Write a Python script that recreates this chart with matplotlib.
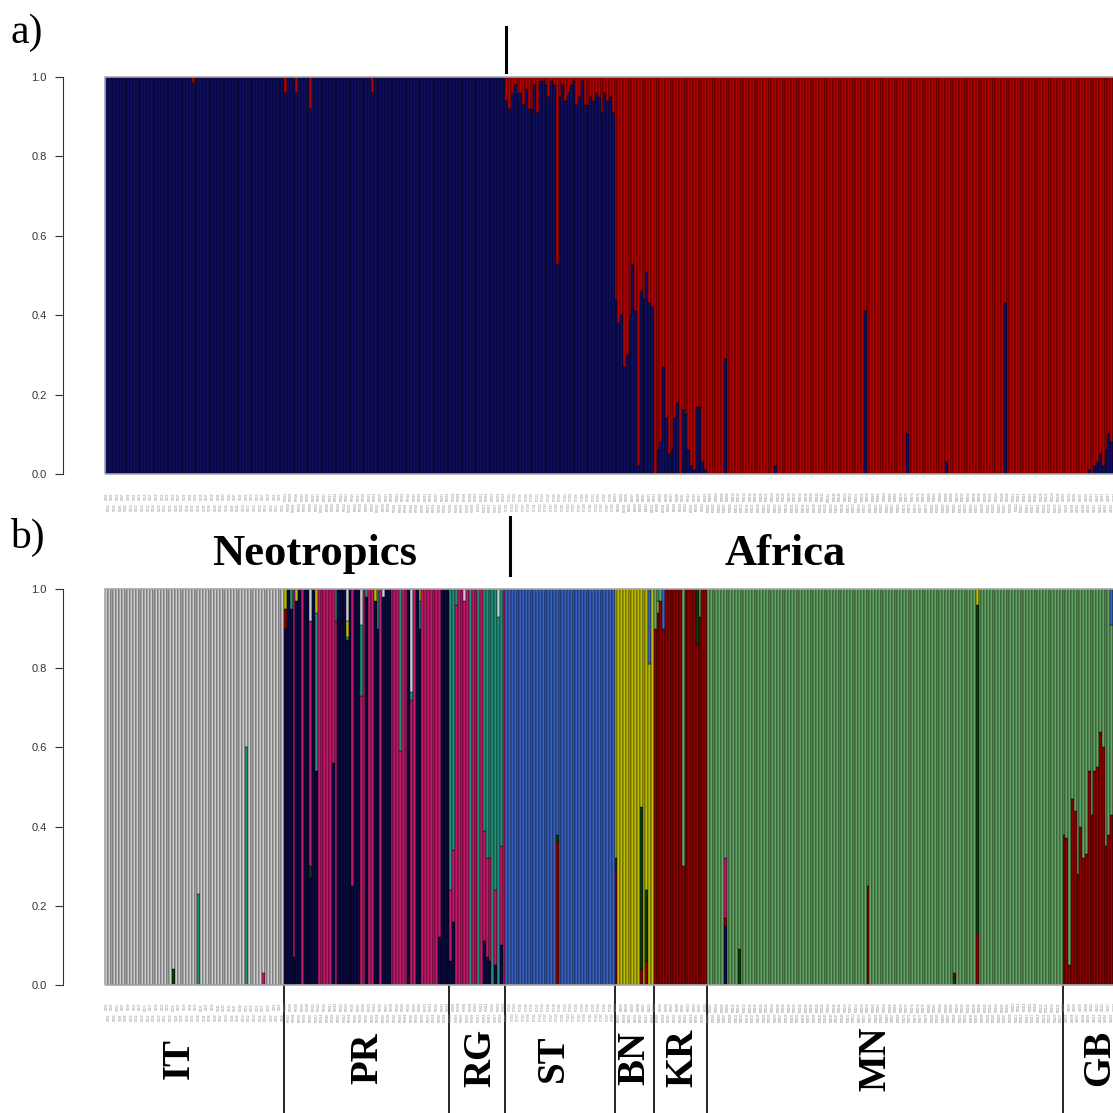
"""
Barplots d'appartenance (K = 2 et K = 9) par individu, populations
ordonnees des Neotropiques vers l'Afrique.
Sortie : out.png
"""

import numpy as np
import matplotlib
matplotlib.use("Agg")
import matplotlib.pyplot as plt
from matplotlib.patches import Rectangle

plt.rcParams.update({
    "font.family": "Liberation Sans",
    "axes.edgecolor": "#333333",
    "ytick.color": "#333333",
})

POPULATIONS = ["IT", "PR", "RG", "ST", "BN", "KR", "MN", "GB"]
EFFECTIFS = [64, 59, 20, 39, 14, 19, 127, 25]
N_NEOTROPIQUES = 64 + 59 + 20

# ---- K = 2 : part du groupe bleu (le complement est rouge) ----
K2_BLEU_DEFAUT = {"IT": 1.0, "PR": 1.0, "RG": 1.0, "MN": 0.0}
K2_BLEU_EXCEPTIONS = {
    ("IT", 31): 0.985,
    ("PR", 0): 0.96, ("PR", 4): 0.96, ("PR", 9): 0.92, ("PR", 31): 0.96,
    ("MN", 6): 0.29, ("MN", 24): 0.02, ("MN", 56): 0.41, ("MN", 71): 0.10,
    ("MN", 85): 0.03, ("MN", 106): 0.43,
}
K2_BLEU_ST = [0.94, 0.92, 0.96, 0.98, 0.96, 0.96, 0.93, 0.97, 0.92, 0.92,
              0.98, 0.91, 0.99, 0.99, 0.98, 0.95, 0.99, 0.98, 0.53, 0.95,
              0.98, 0.94, 0.96, 0.98, 0.99, 0.93, 0.95, 0.99, 0.93, 0.93,
              0.95, 0.94, 0.96, 0.95, 0.91, 0.96, 0.94, 0.95, 0.91]
K2_BLEU_BN = [0.44, 0.38, 0.40, 0.27, 0.30, 0.40, 0.53, 0.41, 0.02, 0.46,
              0.44, 0.51, 0.43, 0.42]
K2_BLEU_KR = [0.00, 0.06, 0.08, 0.27, 0.14, 0.05, 0.06, 0.14, 0.18, 0.00,
              0.16, 0.15, 0.06, 0.02, 0.01, 0.17, 0.17, 0.03, 0.01]
K2_BLEU_GB = [0.00, 0.00, 0.00, 0.00, 0.00, 0.00, 0.00, 0.00, 0.00, 0.01,
              0.00, 0.02, 0.03, 0.05, 0.02, 0.06, 0.10, 0.08, 0.05, 0.07,
              0.04, 0.09, 0.03, 0.06, 0.05]
K2_BLEU_LISTES = {"ST": K2_BLEU_ST, "BN": K2_BLEU_BN, "KR": K2_BLEU_KR, "GB": K2_BLEU_GB}

# ---- K = 9 : groupe majoritaire + individus melanges ----
# g gris, n marine, m magenta, t turquoise, b bleu, y jaune, r rouge fonce,
# G vert, d vert fonce
K9_DEFAUT = {"IT": "g", "ST": "b", "BN": "y", "KR": "r", "MN": "G", "GB": "r"}
PR_MAJORITAIRE = ("nnnmnnmnnm" "nnmmmmmmmn" "nnnnmnnmmn"
                  "mmnnmnnnmm" "mmmmnmmnnm" "mmmmmmnnn")
RG_MAJORITAIRE = "mmmmmmmtmmtmmmmtmmmm"
# segments du bas vers le haut
K9_MELANGES = {
    ("IT", 24): [("d", 0.04), ("g", 0.96)],
    ("IT", 33): [("t", 0.23), ("g", 0.77)],
    ("IT", 50): [("t", 0.60), ("g", 0.40)],
    ("IT", 56): [("m", 0.03), ("g", 0.97)],
    ("PR", 0): [("n", 0.90), ("r", 0.05), ("y", 0.05)],
    ("PR", 2): [("n", 0.95), ("t", 0.05)],
    ("PR", 3): [("n", 0.07), ("m", 0.93)],
    ("PR", 4): [("n", 0.97), ("y", 0.03)],
    ("PR", 9): [("n", 0.27), ("d", 0.03), ("m", 0.62), ("g", 0.08)],
    ("PR", 11): [("n", 0.54), ("t", 0.40), ("y", 0.06)],
    ("PR", 17): [("n", 0.56), ("m", 0.44)],
    ("PR", 18): [("m", 0.92), ("t", 0.08)],
    ("PR", 22): [("n", 0.87), ("t", 0.01), ("y", 0.04), ("g", 0.08)],
    ("PR", 24): [("n", 0.25), ("m", 0.75)],
    ("PR", 27): [("m", 0.73), ("t", 0.18), ("g", 0.09)],
    ("PR", 29): [("n", 0.98), ("t", 0.02)],
    ("PR", 32): [("n", 0.97), ("y", 0.03)],
    ("PR", 33): [("n", 0.90), ("t", 0.10)],
    ("PR", 35): [("n", 0.98), ("g", 0.02)],
    ("PR", 41): [("m", 0.59), ("t", 0.41)],
    ("PR", 45): [("m", 0.72), ("t", 0.02), ("g", 0.26)],
    ("PR", 48): [("n", 0.90), ("t", 0.07), ("y", 0.03)],
    ("PR", 55): [("n", 0.12), ("m", 0.88)],
    ("RG", 0): [("n", 0.06), ("m", 0.18), ("t", 0.76)],
    ("RG", 1): [("n", 0.16), ("m", 0.18), ("t", 0.66)],
    ("RG", 2): [("m", 0.96), ("t", 0.04)],
    ("RG", 5): [("m", 0.97), ("g", 0.03)],
    ("RG", 12): [("n", 0.11), ("m", 0.28), ("t", 0.61)],
    ("RG", 13): [("n", 0.07), ("m", 0.25), ("t", 0.68)],
    ("RG", 14): [("n", 0.06), ("m", 0.26), ("t", 0.68)],
    ("RG", 16): [("n", 0.05), ("m", 0.19), ("t", 0.76)],
    ("RG", 17): [("t", 0.93), ("g", 0.07)],
    ("RG", 18): [("n", 0.10), ("m", 0.25), ("t", 0.65)],
    ("ST", 18): [("r", 0.36), ("d", 0.02), ("b", 0.62)],
    ("BN", 0): [("r", 0.30), ("d", 0.02), ("y", 0.68)],
    ("BN", 9): [("r", 0.04), ("d", 0.41), ("y", 0.55)],
    ("BN", 11): [("r", 0.06), ("d", 0.18), ("y", 0.76)],
    ("BN", 12): [("y", 0.81), ("b", 0.19)],
    ("KR", 0): [("r", 0.90), ("G", 0.10)],
    ("KR", 1): [("r", 0.94), ("y", 0.03), ("G", 0.03)],
    ("KR", 2): [("r", 0.97), ("G", 0.03)],
    ("KR", 3): [("r", 0.90), ("b", 0.10)],
    ("KR", 10): [("r", 0.30), ("G", 0.70)],
    ("KR", 15): [("r", 0.86), ("d", 0.14)],
    ("KR", 16): [("r", 0.93), ("G", 0.07)],
    ("MN", 6): [("n", 0.15), ("r", 0.02), ("m", 0.15), ("G", 0.68)],
    ("MN", 11): [("d", 0.09), ("G", 0.91)],
    ("MN", 57): [("r", 0.25), ("G", 0.75)],
    ("MN", 88): [("d", 0.02), ("r", 0.01), ("G", 0.97)],
    ("MN", 96): [("r", 0.13), ("d", 0.83), ("y", 0.04)],
}
GB_ROUGE = [0.38, 0.37, 0.05, 0.47, 0.44, 0.28, 0.40, 0.32, 0.33, 0.54,
            0.43, 0.54, 0.55, 0.64, 0.60, 0.35, 0.38, 0.43, 0.45, 0.50,
            0.40, 0.58, 0.35, 0.48, 0.52]
GB_BLEU_HAUT = {17: 0.09}

COULEURS_K2 = {"bleu": "#0e0e62", "rouge": "#b40000"}
COULEURS_K9 = {
    "g": "#cdcdcd", "n": "#0a0a42", "m": "#c2186c", "t": "#23917a",
    "b": "#3a62c2", "y": "#bcbc00", "r": "#8c0000", "G": "#62a462",
    "d": "#0c3a0c",
}

# mise en page en pixels (figure 1113 x 1113)
TAILLE = 1113
X0 = 105
PX_PAR_INDIVIDU = 2.8
# centres des noms de populations (pixels) sous le panneau b
X_NOMS = [179, 368, 481, 553, 635, 683, 876, 1100]


def individus():
    for pop, n in zip(POPULATIONS, EFFECTIFS):
        for k in range(n):
            yield pop, k


def segments_k2():
    liste = []
    for pop, k in individus():
        if (pop, k) in K2_BLEU_EXCEPTIONS:
            bleu = K2_BLEU_EXCEPTIONS[(pop, k)]
        elif pop in K2_BLEU_LISTES:
            bleu = K2_BLEU_LISTES[pop][k]
        else:
            bleu = K2_BLEU_DEFAUT[pop]
        liste.append([("bleu", bleu), ("rouge", 1 - bleu)])
    return liste


def segments_k9():
    liste = []
    for pop, k in individus():
        if (pop, k) in K9_MELANGES:
            liste.append(K9_MELANGES[(pop, k)])
        elif pop == "PR":
            liste.append([(PR_MAJORITAIRE[k], 1.0)])
        elif pop == "RG":
            liste.append([(RG_MAJORITAIRE[k], 1.0)])
        elif pop == "GB":
            rouge = GB_ROUGE[k]
            bleu = GB_BLEU_HAUT.get(k, 0.0)
            liste.append([("r", rouge), ("G", 1 - rouge - bleu), ("b", bleu)])
        else:
            liste.append([(K9_DEFAUT[pop], 1.0)])
    return liste


def tracer_barres(ax, segments, couleurs):
    xs, hs, bs, cs = [], [], [], []
    for i, segs in enumerate(segments):
        bas = 0.0
        for code, part in segs:
            if part <= 0:
                continue
            xs.append(i + 0.5)
            hs.append(part)
            bs.append(bas)
            cs.append(couleurs[code])
            bas += part
    ax.bar(xs, hs, bottom=bs, width=1.0, color=cs, edgecolor="black",
           linewidth=0.3, align="center")


def habiller_axe(ax, n):
    ax.set_xlim(0, n)
    ax.set_ylim(0, 1)
    for cote in ["top", "right", "bottom"]:
        ax.spines[cote].set_visible(False)
    ax.spines["left"].set_position(("outward", 30.2))
    ax.spines["left"].set_bounds(0, 1)
    ax.spines["left"].set_linewidth(0.8)
    ax.set_yticks(np.arange(0, 1.01, 0.2))
    ax.set_yticklabels([f"{v:.1f}" for v in np.arange(0, 1.01, 0.2)])
    ax.tick_params(axis="y", length=5.8, width=0.8, pad=6, labelsize=8)
    ax.set_xticks([])
    ax.add_patch(Rectangle((0, 0), n, 1, fill=False, edgecolor="#a8a8a8",
                           linewidth=1.2, clip_on=False, zorder=5))


def etiquettes_individus(ax, y_haut, y_bas):
    # noms d'individus minuscules, verticaux, sur deux rangs alternes
    i = 0
    for pop, k in individus():
        y = y_haut if i % 2 == 0 else y_bas
        ax.text(i + 0.5, y, f"{pop}{k + 1:03d}", fontsize=2.2, color="#8a8a8a",
                rotation=90, ha="center", va="center", clip_on=False)
        i += 1


def main():
    n = sum(EFFECTIFS)
    fig = plt.figure(figsize=(TAILLE / 100, TAILLE / 100), dpi=100)
    gauche = X0 / TAILLE
    largeur = n * PX_PAR_INDIVIDU / TAILLE

    ax_a = fig.add_axes([gauche, 1 - 474 / TAILLE, largeur, 397 / TAILLE])
    ax_b = fig.add_axes([gauche, 1 - 985 / TAILLE, largeur, 396 / TAILLE])

    tracer_barres(ax_a, segments_k2(), COULEURS_K2)
    tracer_barres(ax_b, segments_k9(), COULEURS_K9)
    for ax in (ax_a, ax_b):
        habiller_axe(ax, n)

    etiquettes_individus(ax_a, -0.057, -0.083)
    etiquettes_individus(ax_b, -0.055, -0.081)

    # separation Neotropiques / Afrique
    ax_a.plot([N_NEOTROPIQUES + 0.3] * 2, [1.013, 1.126], color="black",
              linewidth=2.2, clip_on=False)
    ax_b.plot([N_NEOTROPIQUES + 1.7] * 2, [1.035, 1.182], color="black",
              linewidth=2.2, clip_on=False)

    serif = "Liberation Serif"
    fig.text(10 / TAILLE, 1 - 33 / TAILLE, "a)", fontsize=30, family=serif,
             ha="left", va="center")
    fig.text(10 / TAILLE, 1 - 537 / TAILLE, "b)", fontsize=30, family=serif,
             ha="left", va="center")
    ax_b.text((315 - X0) / PX_PAR_INDIVIDU, 1.088, "Neotropics", fontsize=32,
              family=serif, fontweight="bold", ha="center", va="center",
              clip_on=False)
    ax_b.text((785 - X0) / PX_PAR_INDIVIDU, 1.088, "Africa", fontsize=32,
              family=serif, fontweight="bold", ha="center", va="center",
              clip_on=False)

    # limites et noms de populations sous le panneau b
    bornes = np.cumsum(EFFECTIFS)
    for pop, fin, x_nom in zip(POPULATIONS, bornes, X_NOMS):
        if fin < n:
            ax_b.plot([fin, fin], [0, -0.33], color="black", linewidth=1.2,
                      clip_on=False)
        ax_b.text((x_nom - X0) / PX_PAR_INDIVIDU, -0.185, pop, rotation=90,
                  fontsize=28, family=serif, fontweight="bold",
                  ha="center", va="center", clip_on=False)

    fig.savefig("out.png", dpi=100)
    plt.close(fig)


if __name__ == "__main__":
    main()
